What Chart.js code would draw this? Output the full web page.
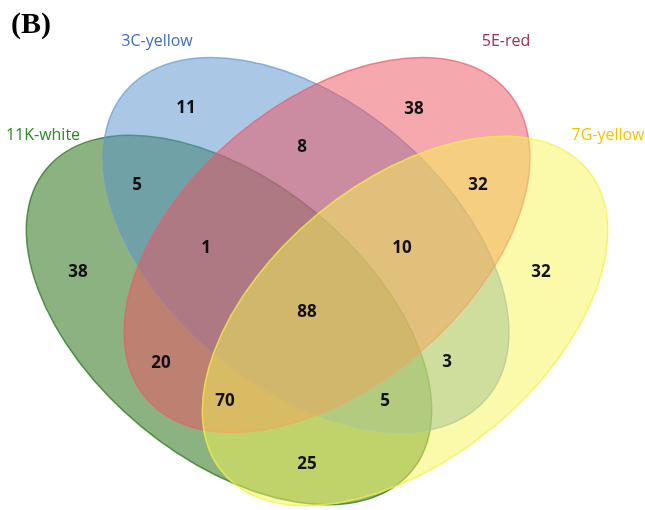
<!DOCTYPE html>
<html>
<head>
<meta charset="utf-8">
<script src="https://cdn.jsdelivr.net/npm/chart.js@4.4.1/dist/chart.umd.min.js"></script>
<style>
  html, body { margin: 0; padding: 0; background: #ffffff; }
  #wrap { width: 645px; height: 510px; }
</style>
</head>
<body>
<div id="wrap"><canvas id="venn" width="645" height="510"></canvas></div>
<script>
// Four-set Venn of shared items
const panelTag = '(B)';
const setNames = ['11K-white', '3C-yellow', '5E-red', '7G-yellow'];

// Region membership (indices into setNames) and item counts per region
const regionSets = [
  [1], [2], [1, 2], [0, 1], [2, 3], [0], [0, 1, 2], [1, 2, 3],
  [3], [0, 1, 2, 3], [0, 2], [1, 3], [0, 2, 3], [0, 1, 3], [0, 3]
];
const regionCounts = [11, 38, 8, 5, 32, 38, 1, 10, 32, 88, 20, 3, 70, 5, 25];

// Layout: where each region's count is written (canvas units, y down)
const regionX = [186, 414, 302, 137, 478, 78, 206, 402, 541, 307, 161, 447, 225, 385, 307];
const regionY = [108, 109, 147, 185, 185, 272, 248, 248, 272, 312, 363, 362, 401, 401, 464];

// Layout: ellipse for each set — centre, semi-axes, tilt (degrees, clockwise)
const ellCx = [229, 306, 327, 405];
const ellCy = [320, 245, 245, 321];
const ellRa = [237, 237, 237, 237];
const ellRb = [138, 142, 142, 138];
const ellTilt = [39.6, 40.2, -40.2, -39.6];

// Styles
const fillColors = ['rgba(25,101,5,0.5)', 'rgba(85,145,205,0.5)', 'rgba(237,81,95,0.5)', 'rgba(245,245,85,0.5)'];
const edgeColors = ['rgba(40,120,30,0.75)', 'rgba(100,155,215,0.7)', 'rgba(240,90,105,0.7)', 'rgba(245,240,70,0.75)'];
const nameColors = ['#2b8a1f', '#3d6fc2', '#a3304c', '#f5c400'];
const nameX = [43, 157, 506, 608];
const nameY = [135, 41, 41, 135];

const vennPlugin = {
  id: 'vennShapes',
  beforeDatasetsDraw(chart) {
    const { ctx, scales: { x, y } } = chart;
    ctx.save();
    for (let i = 0; i < setNames.length; i++) {
      const cx = x.getPixelForValue(ellCx[i]);
      const cy = y.getPixelForValue(ellCy[i]);
      const ra = Math.abs(x.getPixelForValue(ellCx[i] + ellRa[i]) - cx);
      const rb = Math.abs(x.getPixelForValue(ellCx[i] + ellRb[i]) - cx);
      ctx.beginPath();
      ctx.ellipse(cx, cy, ra, rb, ellTilt[i] * Math.PI / 180, 0, Math.PI * 2);
      ctx.fillStyle = fillColors[i];
      ctx.fill();
      ctx.lineWidth = 1.5;
      ctx.strokeStyle = edgeColors[i];
      ctx.stroke();
    }
    ctx.restore();
  },
  afterDatasetsDraw(chart) {
    const { ctx, scales: { x, y } } = chart;
    ctx.save();
    ctx.textAlign = 'center';
    ctx.textBaseline = 'middle';
    // region counts, placed at each point element of the counts dataset
    const meta = chart.getDatasetMeta(0);
    ctx.font = 'bold 17px "Open Sans", sans-serif';
    ctx.fillStyle = '#111111';
    meta.data.forEach((pt, i) => {
      ctx.fillText(String(chart.data.datasets[0].data[i].v), pt.x, pt.y);
    });
    // set names
    ctx.font = '16px "Open Sans", sans-serif';
    setNames.forEach((name, i) => {
      ctx.fillStyle = nameColors[i];
      ctx.fillText(name, x.getPixelForValue(nameX[i]), y.getPixelForValue(nameY[i]));
    });
    // panel tag
    ctx.font = 'bold 30px "Liberation Serif", "Times New Roman", serif';
    ctx.fillStyle = '#000000';
    ctx.textAlign = 'left';
    ctx.fillText(panelTag, x.getPixelForValue(11), y.getPixelForValue(25));
    ctx.restore();
  }
};

const countPoints = regionCounts.map((v, i) => ({ x: regionX[i], y: regionY[i], v, sets: regionSets[i] }));

new Chart(document.getElementById('venn'), {
  type: 'scatter',
  data: {
    datasets: [{
      label: 'Shared items',
      data: countPoints,
      pointRadius: 0,
      pointHoverRadius: 0
    }]
  },
  options: {
    responsive: false,
    maintainAspectRatio: false,
    animation: false,
    layout: { padding: 0 },
    plugins: { legend: { display: false }, tooltip: { enabled: false } },
    scales: {
      x: { type: 'linear', min: 0, max: 645, display: false },
      y: { type: 'linear', min: 0, max: 510, reverse: true, display: false }
    }
  },
  plugins: [vennPlugin]
});
</script>
</body>
</html>
